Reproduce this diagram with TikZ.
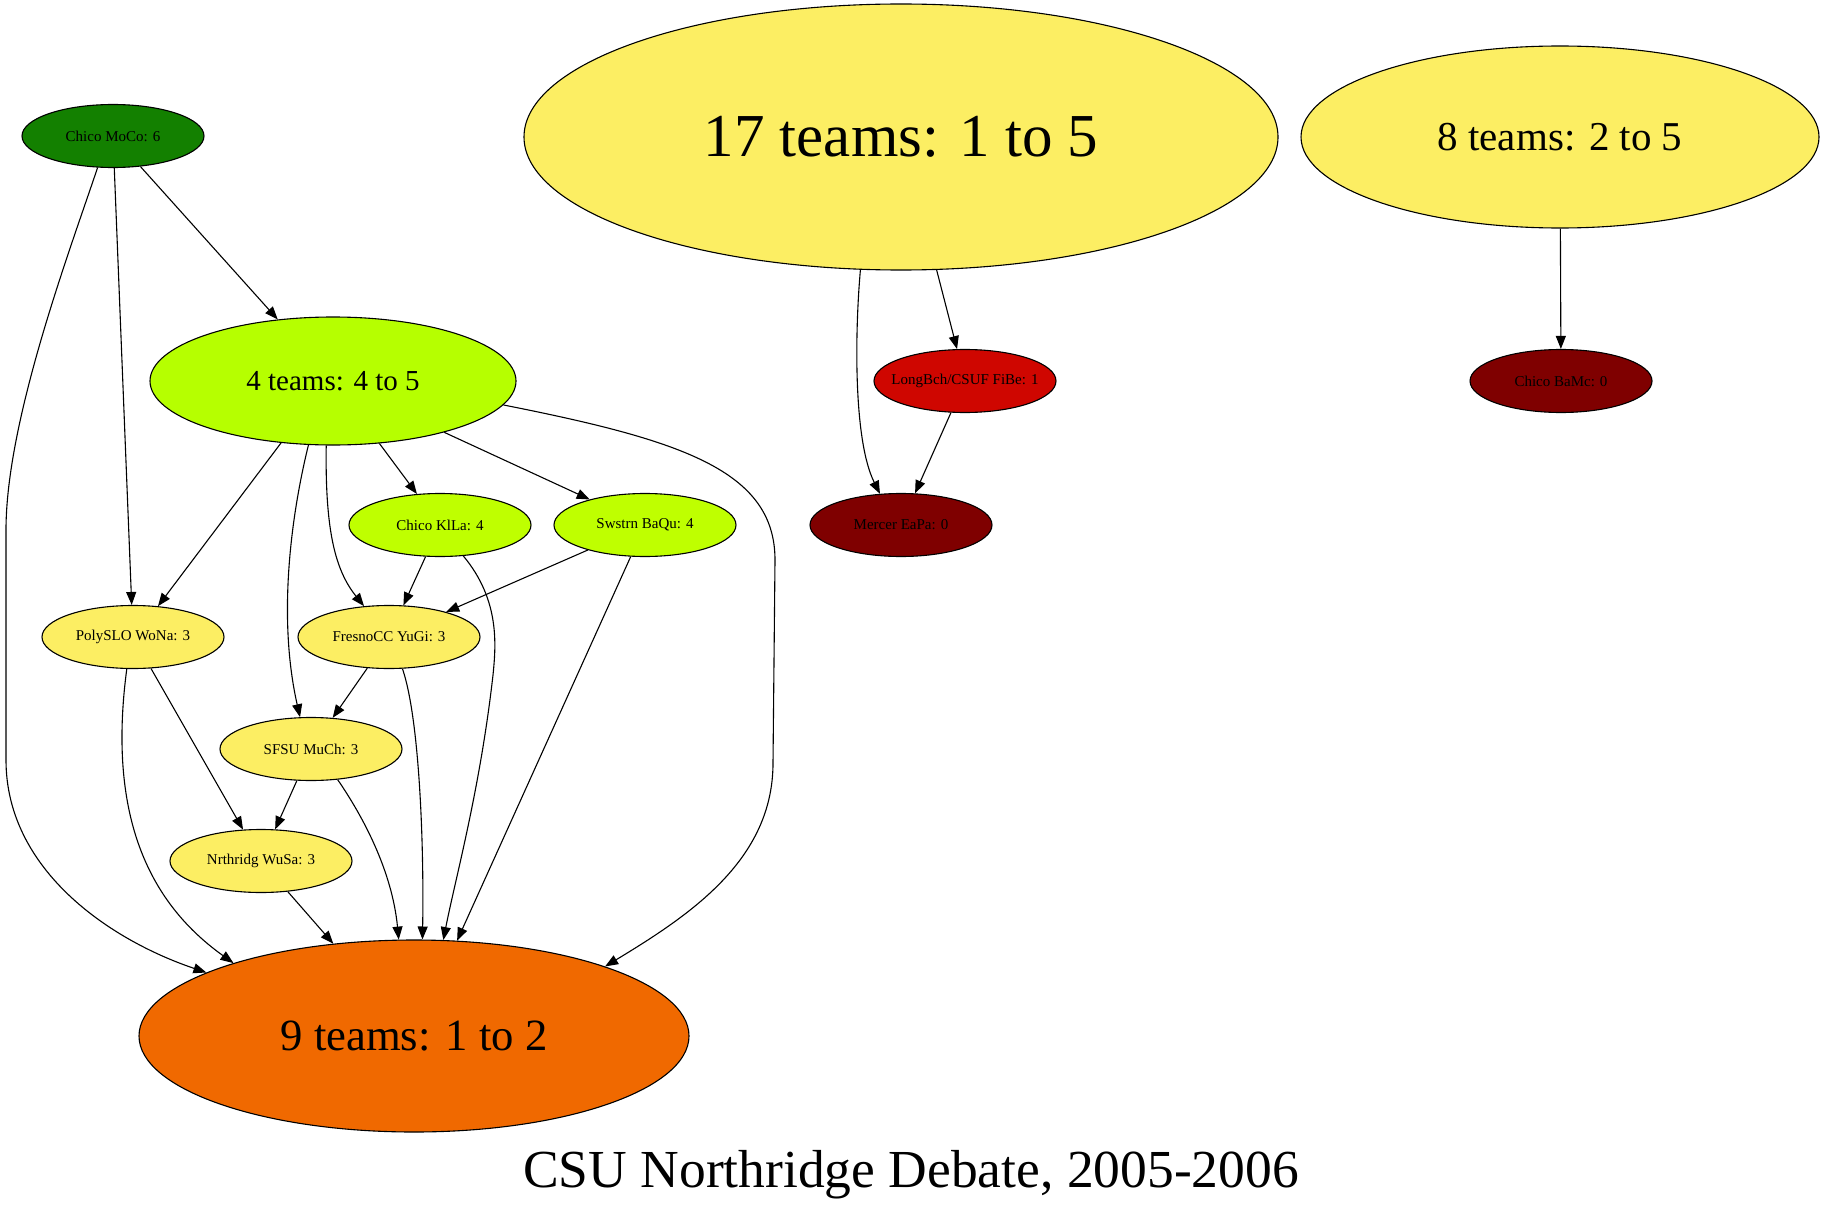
\documentclass[tikz,border=0pt]{standalone}
\usepackage{fontspec}
\setmainfont{Liberation Serif}
\usetikzlibrary{shapes.geometric,arrows.meta}
\definecolor{cgreen}{HTML}{138000}
\definecolor{cyellow}{HTML}{FCEE63}
\definecolor{clime}{HTML}{B6FF00}
\definecolor{clime2}{HTML}{BFFF00}
\definecolor{cred}{HTML}{CF0600}
\definecolor{cdark}{HTML}{7F0000}
\definecolor{corange}{HTML}{F06900}
\begin{document}
\begin{tikzpicture}[x=1pt,y=-1pt,
  team/.style={ellipse, draw=black, line width=1.1pt, inner sep=0pt, minimum width=182pt, minimum height=63pt, font=\fontsize{15}{18}\selectfont},
  group/.style={ellipse, draw=black, line width=1.1pt, inner sep=0pt},
  conn/.style={line width=1.1pt, -{Triangle[length=13pt,width=10pt]}}]
\fill[white] (0,0) rectangle (1825,1209);
\useasboundingbox (0,0) rectangle (1825,1209);

\node[team, fill=cgreen] (moco) at (113,136) {\makebox[0pt]{Chico MoCo: 6}};
\node[group, fill=cyellow, minimum width=754pt, minimum height=266pt, font=\fontsize{61}{70}\selectfont] (seventeen) at (901,137) {17 teams: 1 to 5};
\node[group, fill=cyellow, minimum width=518pt, minimum height=182pt, font=\fontsize{41}{48}\selectfont] (eight) at (1560,137) {8 teams: 2 to 5};
\node[group, fill=clime, minimum width=366pt, minimum height=128pt, font=\fontsize{29}{34}\selectfont] (four) at (333,381) {4 teams: 4 to 5};
\node[team, fill=cred] (longbch) at (965,381) {\makebox[0pt]{LongBch/CSUF FiBe: 1}};
\node[team, fill=cdark] (bamc) at (1561,381) {\makebox[0pt]{Chico BaMc: 0}};
\node[team, fill=cdark] (mercer) at (901,525) {\makebox[0pt]{Mercer EaPa: 0}};
\node[team, fill=clime2] (kila) at (440,525) {\makebox[0pt]{Chico KlLa: 4}};
\node[team, fill=clime2] (swstrn) at (645,525) {\makebox[0pt]{Swstrn BaQu: 4}};
\node[team, fill=cyellow] (fresno) at (389,637) {\makebox[0pt]{FresnoCC YuGi: 3}};
\node[team, fill=cyellow] (poly) at (133,637) {\makebox[0pt]{PolySLO WoNa: 3}};
\node[team, fill=cyellow] (sfsu) at (311,749) {\makebox[0pt]{SFSU MuCh: 3}};
\node[team, fill=cyellow] (nrth) at (261,861) {\makebox[0pt]{Nrthridg WuSa: 3}};
\node[group, fill=corange, minimum width=550pt, minimum height=192pt, font=\fontsize{44.7}{52}\selectfont] (nine) at (414,1036) {9 teams: 1 to 2};
\node[font=\fontsize{53.5}{62}\selectfont, anchor=base] (title) at (911,1187) {CSU Northridge Debate, 2005-2006};

\draw[conn] (moco) -- (four);
\draw[conn] (moco) -- (poly);
\draw[conn] (moco.244.3) .. controls (70,250) and (6,420) .. (6,530) -- (6,760) .. controls (6,870) and (110,940) .. (nine.163.1);
\draw[conn] (four.230.6) -- (poly.51.7);
\draw[conn] (four.249.4) .. controls (290,520) and (278,620) .. (sfsu.109.5);
\draw[conn] (four.264.6) .. controls (325,530) and (335,570) .. (fresno.129.8);
\draw[conn] (four) -- (kila);
\draw[conn] (four) -- (swstrn);
\draw[conn] (four.-8.9) .. controls (680,440) and (775,470) .. (775,560) -- (773,763) .. controls (773,860) and (690,915) .. (nine.20.4);
\draw[conn] (poly.259.4) .. controls (108,810) and (145,900) .. (nine.158.3);
\draw[conn] (poly) -- (nrth);
\draw[conn] (fresno) -- (sfsu);
\draw[conn] (fresno.-67.4) .. controls (420,720) and (424,850) .. (nine.85.2);
\draw[conn] (sfsu) -- (nrth);
\draw[conn] (sfsu.-49.3) .. controls (362,815) and (392,870) .. (nine.99.5);
\draw[conn] (nrth) -- (nine);
\draw[conn] (kila) -- (fresno);
\draw[conn] (kila.-53) .. controls (500,600) and (496,645) .. (493,675) .. controls (480,790) and (455,880) .. (nine.73);
\draw[conn] (swstrn) -- (fresno);
\draw[conn] (swstrn) -- (nine);
\draw[conn] (seventeen.253.2) .. controls (855,330) and (853,440) .. (mercer.124.5);
\draw[conn] (seventeen.-75.2) -- (longbch.104.3);
\draw[conn] (longbch) -- (mercer);
\draw[conn] (eight) -- (bamc);
\end{tikzpicture}
\end{document}
